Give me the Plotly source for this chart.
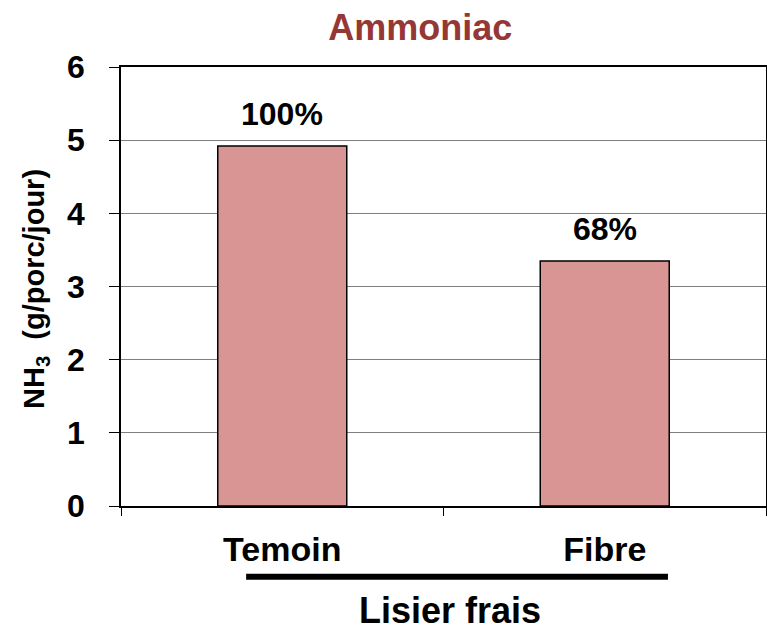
"""Ammoniac emissions bar chart (Lisier frais: Temoin vs Fibre)."""

import plotly.graph_objects as go

# --- data ---------------------------------------------------------------
categories = ["Temoin", "Fibre"]
nh3_values = [4.92, 3.35]
pct_labels = ["100%", "68%"]
y_ticks = [0, 1, 2, 3, 4, 5, 6]

FONT = "Liberation Sans, Arial, sans-serif"
BAR_FILL = "#D99594"
TITLE_RED = "#953735"

fig = go.Figure(
    go.Bar(
        x=categories,
        y=nh3_values,
        marker={"color": BAR_FILL, "line": {"color": "black", "width": 1.5}},
        width=0.4,
        hoverinfo="skip",
    )
)

# Percentage labels above each bar.
for cat, val, lab in zip(categories, nh3_values, pct_labels):
    fig.add_annotation(
        x=cat, y=val, text=lab, showarrow=False,
        yanchor="bottom", yshift=12,
        font={"family": FONT, "size": 32, "color": "black", "weight": "bold"},
    )

# Y-axis title (rotated) with subscript.
fig.add_annotation(
    xref="paper", yref="paper", x=-0.132, y=0.494,
    text="NH<sub>3</sub>  (g/porc/jour)", textangle=-90, showarrow=False,
    xanchor="center", yanchor="middle",
    font={"family": FONT, "size": 29, "color": "black", "weight": "bold"},
)

# Group bracket under the category labels + group label.
fig.add_shape(
    type="line", xref="paper", yref="paper",
    x0=0.194, x1=0.848, y0=-0.161, y1=-0.161,
    line={"color": "black", "width": 6},
)
fig.add_annotation(
    xref="paper", yref="paper", x=0.51, y=-0.237,
    text="Lisier frais", showarrow=False, xanchor="center", yanchor="middle",
    font={"family": FONT, "size": 36, "color": "black", "weight": "bold"},
)

fig.update_layout(
    width=767, height=628,
    margin={"l": 121, "r": 1, "t": 67, "b": 122, "autoexpand": False},
    paper_bgcolor="white", plot_bgcolor="white",
    showlegend=False,
    bargap=0.6,
    title={
        "text": "Ammoniac", "x": 0.548, "xanchor": "center",
        "y": 1 - 27 / 628, "yanchor": "middle",
        "font": {"family": FONT, "size": 36, "color": TITLE_RED, "weight": "bold"},
    },
)
fig.update_xaxes(
    type="category", automargin=False,
    showline=True, linecolor="black", linewidth=1.5, mirror=True,
    ticks="outside", tickson="boundaries", ticklen=8, tickcolor="black",
    ticklabelstandoff=12,
    tickfont={"family": FONT, "size": 34, "color": "black", "weight": "bold"},
    showgrid=False,
)
fig.update_yaxes(
    range=[0, 6], tickvals=y_ticks, automargin=False,
    showline=True, linecolor="black", linewidth=1.5, mirror=True,
    ticks="outside", ticklen=10, tickcolor="black",
    ticklabelstandoff=18,
    tickfont={"family": FONT, "size": 32, "color": "black", "weight": "bold"},
    showgrid=True, gridcolor="#7f7f7f", gridwidth=1,
    zeroline=False,
)

# Drop the default page margin so the 767x628 figure fills the window exactly.
fig.write_html(
    "out.html",
    config={"displayModeBar": False},
    post_script="document.body.style.margin='0';document.body.style.overflow='hidden';",
)
